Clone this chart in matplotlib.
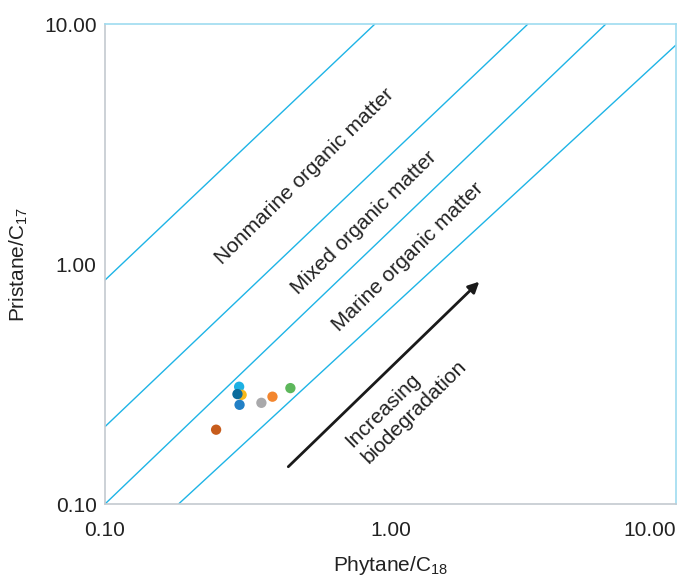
import matplotlib
matplotlib.use("Agg")
import matplotlib.pyplot as plt

plt.rcParams['font.family'] = ['Liberation Sans', 'DejaVu Sans']
plt.rcParams['mathtext.fontset'] = 'custom'
plt.rcParams['mathtext.rm'] = 'Liberation Sans'
plt.rcParams['mathtext.it'] = 'Liberation Sans'

# Muestras (Phytane/C18, Pristane/C17)
sample_x = [0.295, 0.301, 0.291, 0.296, 0.353, 0.386, 0.446, 0.245]
sample_y = [0.308, 0.285, 0.287, 0.259, 0.264, 0.280, 0.304, 0.204]
sample_colors = ['#1db1e4', '#f7b81c', '#0b6c9c', '#2280c6', '#a9a9ab',
                 '#f3862e', '#5db75b', '#c75c1c']

# Límites entre campos (extremos de cada línea)
boundary_x0 = [0.1, 0.1, 0.1, 0.181]
boundary_y0 = [0.857, 0.21, 0.1, 0.1]
boundary_x1 = [0.882, 3.03, 5.68, 10.0]
boundary_y1 = [10.0, 10.0, 10.0, 8.18]

field_labels = ['Nonmarine organic matter', 'Mixed organic matter', 'Marine organic matter']
field_label_x = [0.502, 0.808, 1.152]
field_label_y = [2.326, 1.482, 1.069]

ticks = [0.1, 1.0, 10.0]
tick_labels = ['0.10', '1.00', '10.00']

line_color = '#1eb4e6'
text_color = '#222222'

fig = plt.figure(figsize=(6.93, 5.77), dpi=100)
ax = fig.add_axes([105 / 693, 73 / 577, 571 / 693, 480 / 577])
ax.set_xscale('log')
ax.set_yscale('log')
ax.set_xlim(0.1, 10)
ax.set_ylim(0.1, 10)

for x0, y0, x1, y1 in zip(boundary_x0, boundary_y0, boundary_x1, boundary_y1):
    ax.plot([x0, x1], [y0, y1], color=line_color, lw=1.0, solid_capstyle='butt')

ax.scatter(sample_x, sample_y, c=sample_colors, s=55, linewidths=0, zorder=3)

for label, lx, ly in zip(field_labels, field_label_x, field_label_y):
    ax.text(lx, ly, label, rotation=44.5, rotation_mode='anchor',
            ha='center', va='center', fontsize=15, color=text_color)

ax.text(1.133, 0.261, 'Increasing\nbiodegradation', rotation=44.5,
        rotation_mode='anchor', ha='center', va='center', multialignment='left',
        fontsize=15, color=text_color, linespacing=1.25)

ax.annotate('', xy=(2.046, 0.844), xytext=(0.4385, 0.143),
            arrowprops=dict(arrowstyle='-|>', color='#1a1a1a', lw=2.0,
                            mutation_scale=16, shrinkA=0, shrinkB=0))

ax.set_xticks(ticks)
ax.set_xticklabels(tick_labels)
ax.set_yticks(ticks)
ax.set_yticklabels(tick_labels)
ax.minorticks_off()
ax.tick_params(length=0, labelsize=15, labelcolor=text_color)
ax.tick_params(axis='x', pad=12)
ax.tick_params(axis='y', pad=6)
# el último rótulo del eje x queda alineado al borde derecho
ax.get_xticklabels()[-1].set_horizontalalignment('right')

ax.spines['left'].set_color('#c4cad0')
ax.spines['bottom'].set_color('#c4cad0')
ax.spines['top'].set_color('#9edcf0')
ax.spines['right'].set_color('#9edcf0')
for s in ax.spines.values():
    s.set_linewidth(1.2)

ax.set_xlabel(r'Phytane/C$_\mathrm{18}$', fontsize=15, color=text_color, labelpad=10)
ax.set_ylabel(r'Pristane/C$_\mathrm{17}$', fontsize=15, color=text_color, labelpad=10)

fig.savefig('out.png', dpi=100)
